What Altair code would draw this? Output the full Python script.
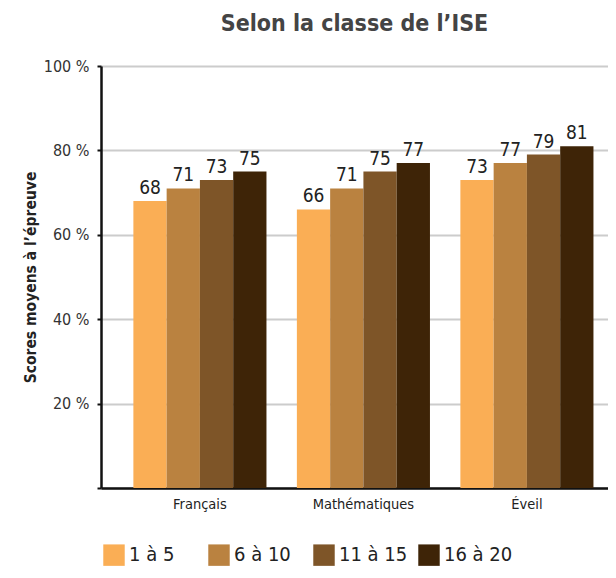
import altair as alt
import pandas as pd

subjects = ["Français", "Mathématiques", "Éveil"]
classes = ["1 à 5", "6 à 10", "11 à 15", "16 à 20"]
scores = {
    "1 à 5": [68, 66, 73],
    "6 à 10": [71, 71, 77],
    "11 à 15": [73, 75, 79],
    "16 à 20": [75, 77, 81],
}
colors = ["#FAAE55", "#BA8240", "#7E5528", "#3E2407"]
y_ticks = [0, 20, 40, 60, 80, 100]

rows = []
for c in classes:
    for s, v in zip(subjects, scores[c]):
        rows.append({"Matière": s, "Classe": c, "Score": v})
df = pd.DataFrame(rows)

FONT = "Liberation Sans Narrow, DejaVu Sans Condensed, sans-serif"

x_enc = alt.X("Matière:N", sort=subjects,
              scale=alt.Scale(paddingInner=0.186, paddingOuter=0.1435, align=0.69),
              axis=alt.Axis(title=None, labelAngle=0, labelFontSize=14.5, labelFont=FONT,
                            labelColor="#222", ticks=False, domainColor="#111",
                            domainWidth=2.5, labelPadding=9))
xo = alt.XOffset("Classe:N", sort=classes, scale=alt.Scale(paddingInner=0, paddingOuter=0))

bars = alt.Chart(df).mark_bar(stroke=None).encode(
    x=x_enc,
    xOffset=xo,
    y=alt.Y("Score:Q", scale=alt.Scale(domain=[0, 100]),
            axis=alt.Axis(values=y_ticks, title="Scores moyens à l’épreuve",
                          titleFont=FONT, titleFontSize=15.5, titleFontWeight="bold",
                          titleColor="#222", titlePadding=5,
                          labelExpr="datum.value == 0 ? '' : datum.value + ' %'",
                          labelFont=FONT, labelFontSize=16, labelColor="#333",
                          labelPadding=8, tickSize=4, tickWidth=2, tickColor="#111",
                          domainColor="#111", domainWidth=2.5,
                          grid=True, gridColor="#cccccc", gridWidth=2)),
    color=alt.Color("Classe:N", sort=classes,
                    scale=alt.Scale(domain=classes, range=colors),
                    legend=alt.Legend(title=None, orient="none", direction="horizontal",
                                      columns=4, legendX=2, legendY=478,
                                      symbolType="square", symbolSize=460,
                                      symbolStrokeWidth=0, symbolOpacity=1,
                                      labelFont=FONT, labelFontSize=20, labelColor="#222",
                                      labelOffset=4, columnPadding=10, gridAlign="all")),
)

labels = alt.Chart(df).mark_text(baseline="bottom", dy=-3, fontSize=19, font=FONT,
                                 color="#222").encode(
    x=alt.X("Matière:N", sort=subjects),
    xOffset=xo,
    y="Score:Q",
    text="Score:Q",
)

chart = (bars + labels).properties(
    width=507, height=422,
    title=alt.TitleParams("Selon la classe de l’ISE", font=FONT, fontSize=23,
                          fontWeight="bold", color="#444", anchor="middle", offset=22),
    autosize=alt.AutoSizeParams(type="none"),
    padding={"left": 93, "top": 58, "right": 0, "bottom": 82},
).configure_view(stroke=None)

chart.save("out.html", embed_options={"renderer": "svg", "actions": False})
